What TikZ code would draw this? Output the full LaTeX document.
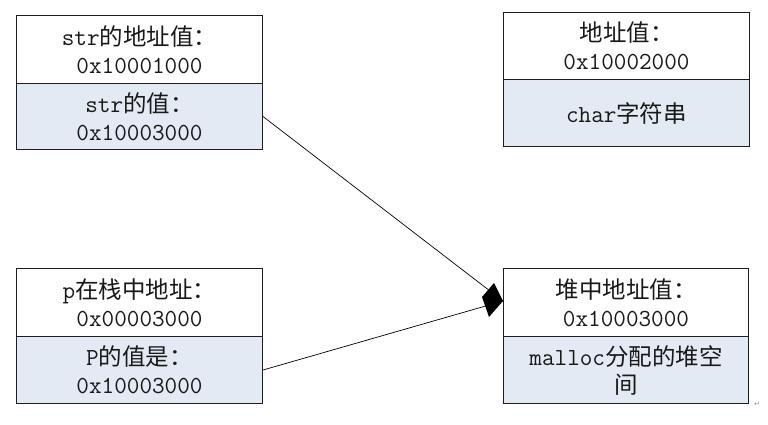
\documentclass[tikz,border=0pt]{standalone}
\usepackage{fontspec}
\newfontfamily\cjk{Noto Sans CJK SC}
\newfontfamily\symfont{DejaVu Sans}
\newcommand{\zh}[1]{{\cjk\fontsize{23.5}{28}\selectfont #1}}
\definecolor{cellblue}{RGB}{228,234,244}
\definecolor{edge}{RGB}{30,30,30}
\begin{document}
\begin{tikzpicture}[x=1pt,y=-1pt,
  half/.style={draw=edge, line width=1pt, anchor=north west, inner sep=0pt,
    minimum width=246pt, align=center, text=black!90,
    font=\ttfamily\fontsize{24.5}{28}\selectfont},
  lower/.style={half, fill=cellblue},
  conn/.style={draw=black, line width=0.7pt}]
\useasboundingbox (0,0) rectangle (768,424);
% box 1
\node[half, minimum height=68pt] (top1) at (16,15) {str\zh{的地址值：}\\0x10001000};
\node[lower, minimum height=66pt] (bot1) at (16,83) {str\zh{的值：}\\0x10003000};
% box 2
\node[half, minimum height=67pt] (top2) at (503,12) {\zh{地址值：}\\0x10002000};
\node[lower, minimum height=67pt] (bot2) at (503,79) {char\zh{字符串}};
% box 3
\node[half, minimum height=68pt] (top3) at (16,268) {p\zh{在栈中地址：}\\0x00003000};
\node[lower, minimum height=67pt] (bot3) at (16,336) {P\zh{的值是：}\\0x10003000};
% box 4
\node[half, minimum width=245pt, minimum height=68pt] (top4) at (503,268) {\zh{堆中地址值：}\\0x10003000};
\node[lower, minimum width=245pt, minimum height=67pt] (bot4) at (503,336) {malloc\zh{分配的堆空}\\\zh{间}};
% connectors
\coordinate (tip) at (503,301);
\draw[conn] (bot1.east) -- (tip);
\draw[conn] (bot3.east) -- (tip);
\fill[black] (tip) -- (494,283) -- (482,297) -- (489,317) -- cycle;
% paragraph mark
\node[text=black!45, font=\symfont\fontsize{7}{8}\selectfont, inner sep=0pt] (pm) at (757,404) {↵};
\end{tikzpicture}
\end{document}
